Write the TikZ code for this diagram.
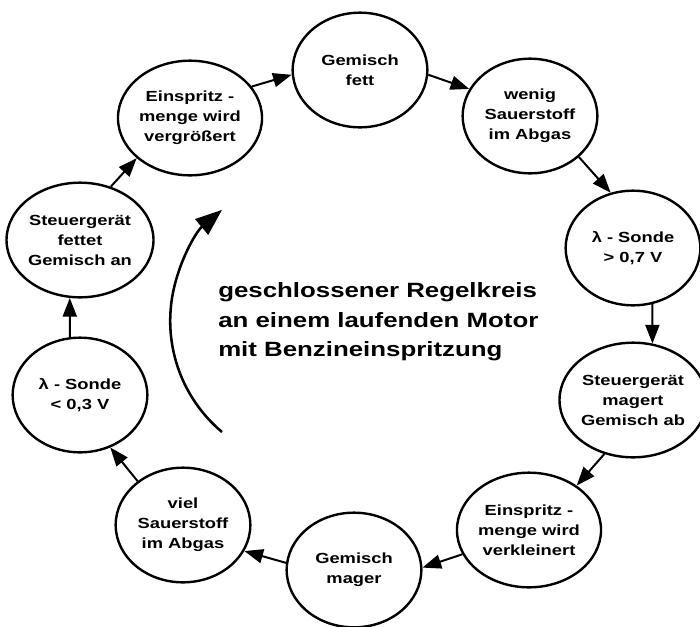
\documentclass[tikz,border=0pt]{standalone}
\usepackage{fontspec}
\setmainfont{Liberation Sans}[FakeStretch=1.25]
\usetikzlibrary{shapes.geometric,arrows.meta}

\begin{document}
\begin{tikzpicture}[x=0.75pt,y=0.75pt,yscale=-1,xscale=1,
    zustand/.style={draw,ellipse,line width=1.8pt,minimum width=101pt,minimum height=86pt,inner sep=0pt,align=center,font=\bfseries\fontsize{11}{15}\selectfont},
    pfeil/.style={line width=1.5pt,-{Triangle[length=14pt,width=10.5pt]}}]
        \useasboundingbox (0,0) rectangle (700,626);

        \draw (360,70) node [zustand] (fett) {Gemisch\\fett};
        \draw (530,116) node [zustand] (wenig) {wenig\\Sauerstoff\\im Abgas};
        \draw (633,248) node [zustand] (sondehoch) {λ - Sonde\\> 0,7 V};
        \draw (633,400) node [zustand] (magert) {Steuergerät\\magert\\Gemisch ab};
        \draw (529,530) node [zustand] (kleiner) {Einspritz -\\menge wird\\verkleinert};
        \draw (354,570) node [zustand] (mager) {Gemisch\\mager};
        \draw (183,525) node [zustand] (viel) {viel\\Sauerstoff\\im Abgas};
        \draw (80,395) node [zustand] (sondetief) {λ - Sonde\\< 0,3 V};
        \draw (80,240) node [zustand] (fettet) {Steuergerät\\fettet\\Gemisch an};
        \draw (190,118) node [zustand] (groesser) {Einspritz -\\menge wird\\vergrößert};

        \draw [pfeil] (fett.-4) -- (wenig.156) ;
        \draw [pfeil] (wenig.-40) -- (sondehoch.112) ;
        \draw [pfeil] (sondehoch.-71) -- (magert.71) ;
        \draw [pfeil] (magert.242) -- (kleiner.43) ;
        \draw [pfeil] (kleiner.200) -- (mager.2) ;
        \draw [pfeil] (mager.174) -- (viel.-23) ;
        \draw [pfeil] (viel.136) -- (sondetief.-60) ;
        \draw [pfeil] (sondetief.100) -- (fettet.-100) ;
        \draw [pfeil] (fettet.60) -- (groesser.217) ;
        \draw [pfeil] (groesser.27) -- (fett.184) ;

        \coordinate (bogenanfang) at (222,432);
        \draw [line width=1.9pt,-{Triangle[length=20pt,width=15pt]}] (bogenanfang) arc [start angle=130,end angle=230,radius=145] ;

        \draw (218,322) node [anchor=west][inner sep=0pt][align=left][font=\bfseries\fontsize{15.5}{22}\selectfont] (regelkreis) {geschlossener Regelkreis\\an einem laufenden Motor\\mit Benzineinspritzung};
    \end{tikzpicture}
\end{document}
